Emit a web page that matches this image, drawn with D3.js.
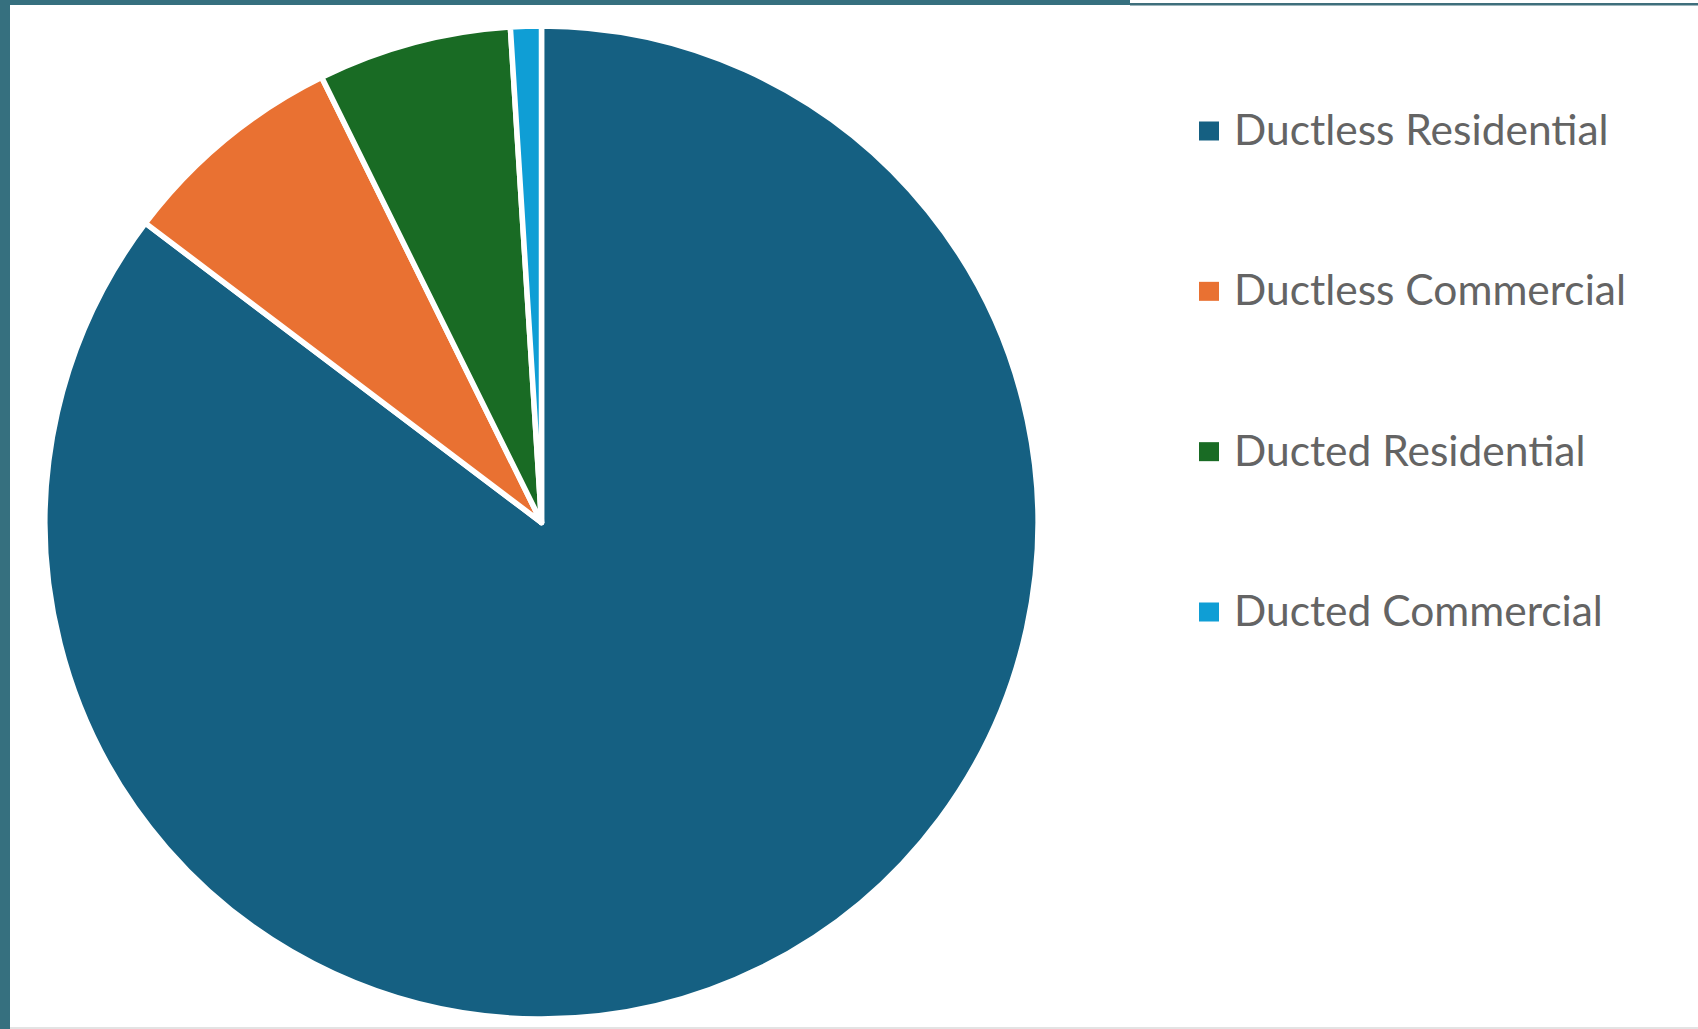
<!DOCTYPE html>
<html lang="en">
<head>
    <meta charset="UTF-8">
    <title>Heat Pump Share</title>
    <script src="https://cdn.jsdelivr.net/npm/d3@7"></script>
    <style>
        body { margin: 0; background: #ffffff; }
        .legend text {
            font-family: Lato, "Open Sans", sans-serif;
            font-size: 42.5px;
            fill: #646464;
        }
        .slice path {
            stroke: #ffffff;
            stroke-width: 5.5;
            stroke-linejoin: round;
        }
    </style>
</head>
<body>
    <svg id="chart" width="1698" height="1029"></svg>

    <script>
        // values (percent share)
        const categories = ["Ductless Residential", "Ductless Commercial", "Ducted Residential", "Ducted Commercial"];
        const shares = [85.3, 7.4, 6.3, 1.0];
        const colors = ["#156082", "#e97132", "#196b24", "#0f9ed5"];

        const W = 1698, H = 1029;
        const svg = d3.select("#chart");

        // frame: teal bar on the left and top, thin rules elsewhere
        svg.append("rect").attr("x", 0).attr("y", 0).attr("width", W).attr("height", H).attr("fill", "#ffffff");
        svg.append("rect").attr("x", 0).attr("y", 0).attr("width", 10).attr("height", H).attr("fill", "#36707f");
        svg.append("rect").attr("x", 0).attr("y", 0).attr("width", 1130).attr("height", 5).attr("fill", "#36707f");
        svg.append("rect").attr("x", 1130).attr("y", 3).attr("width", W - 1130).attr("height", 2.5).attr("fill", "#3f6f7c");
        svg.append("rect").attr("x", 10).attr("y", H - 2).attr("width", W - 10).attr("height", 2).attr("fill", "#e3e3e3");

        // Pie
        const cx = 541.5, cy = 522.5, radius = 496.5;
        const data = categories.map((c, i) => ({name: c, value: shares[i], color: colors[i]}));
        const pie = d3.pie().value(d => d.value).sort(null);
        const arc = d3.arc().innerRadius(0).outerRadius(radius);

        const gPie = svg.append("g").attr("class", "slice")
            .attr("transform", `translate(${cx},${cy})`);
        gPie.selectAll("path")
            .data(pie(data))
            .enter().append("path")
            .attr("d", arc)
            .attr("fill", d => d.data.color);

        // Legend
        const yLegend = d3.scalePoint().domain(categories).range([131, 612]);
        const legend = svg.append("g").attr("class", "legend");
        const items = legend.selectAll("g")
            .data(data)
            .enter().append("g")
            .attr("transform", d => `translate(1199,${yLegend(d.name)})`);
        items.append("rect")
            .attr("x", 0).attr("y", -9.5)
            .attr("width", 20).attr("height", 19)
            .attr("fill", d => d.color);
        items.append("text")
            .attr("x", 35).attr("y", 14)
            .text(d => d.name);
    </script>
</body>
</html>
